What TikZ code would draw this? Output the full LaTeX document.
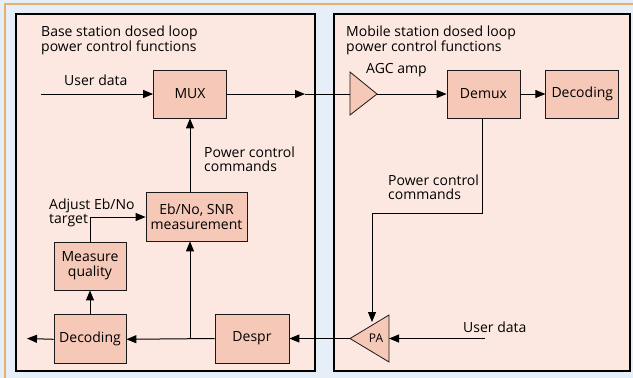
\documentclass[tikz,border=0pt]{standalone}
\usepackage{fontspec}
\setmainfont{Open Sans}
\usetikzlibrary{positioning,arrows.meta}

\definecolor{bgblue}{HTML}{E6EEF8}
\definecolor{frameorange}{HTML}{E8B070}
\definecolor{panelpink}{HTML}{FCE8E0}
\definecolor{boxsalmon}{HTML}{F6C8B8}

\tikzset{
  panel/.style={draw=black, line width=1.1pt, fill=panelpink},
  block/.style={draw=black!90, line width=0.8pt, fill=boxsalmon, minimum width=73pt,
    minimum height=48pt, inner sep=1pt, align=center, font=\fontsize{14}{15}\selectfont},
  amp/.style={draw=black!90, line width=0.8pt, fill=boxsalmon},
  lbl/.style={align=left, inner sep=0pt, anchor=north west, font=\fontsize{14}{14}\selectfont},
  lblone/.style={inner sep=0pt, anchor=base west, font=\fontsize{14}{14}\selectfont},
  sig/.style={line width=1pt, -{Triangle[length=10pt,width=8pt]}},
  wire/.style={line width=1pt}
}

\begin{document}
\begin{tikzpicture}[x=1pt,y=-1pt]
  % background and frame
  \fill[bgblue] (0,0) rectangle (633,378);
  \useasboundingbox (0,0) rectangle (633,378);
  \draw[frameorange, line width=1.5pt] (5,378) -- (5,4) -- (633,4);

  % the two panels
  \draw[panel] (16,14) rectangle (315,371);
  \draw[panel] (334,14) rectangle (630,371);
  \node[lbl] (bstitle) at (41,25.5) {Base station dosed loop\\power control functions};
  \node[lbl] (mstitle) at (346,25.5) {Mobile station dosed loop\\power control functions};

  % base station blocks
  \node[block] (mux) at (190,94) {MUX};
  \node[block, minimum width=101pt, minimum height=49pt] (ebno) at (196.5,216.5) {Eb/No, SNR\\measurement};
  \node[block, minimum width=72pt] (measq) at (90,266) {Measure\\quality};
  \node[block, minimum width=72pt, minimum height=49pt, below=24pt of measq] (decl) {Decoding};
  \node[block, minimum width=74pt, minimum height=49pt] (despr) at (252,338.5) {Despr};

  % mobile station blocks
  \node[block] (demux) at (483.5,94) {Demux};
  \node[block, right=25pt of demux] (decr) {Decoding};

  % amplifiers
  \draw[amp] (350,72) -- (377,94) -- (350,115) -- cycle;
  \coordinate (agcin) at (350,94);
  \coordinate (agcout) at (377,94);
  \draw[amp] (389,315) -- (389,362) -- (350,338.5) -- cycle;
  \node[inner sep=0pt, font=\fontsize{12}{13}\selectfont] (pa) at (376,338.5) {PA};
  \coordinate (pain) at (389,338.5);
  \coordinate (paout) at (350,338.5);
  \coordinate (patop) at (372,322);

  % free ends and bends
  \coordinate (udin) at (41,94);
  \coordinate (udms) at (485,338.5);
  \coordinate (muxtip) at (305,94);
  \coordinate (decout) at (27,338.5);
  \coordinate (split) at (190,338.5);
  \coordinate (pcbend) at (482,213);
  \coordinate (adjbend) at (90,217);

  % signal paths
  \draw[sig] (udin) -- (mux.west);
  \draw[sig] (mux.east) -- (muxtip);
  \draw[wire] (muxtip) -- (agcin);
  \draw[sig] (agcout) -- (demux.west);
  \draw[sig] (demux.east) -- (decr.west);
  \draw[wire] (demux.south -| pcbend) -- (pcbend) -- (pcbend -| patop);
  \draw[sig] (pcbend -| patop) -- (patop);
  \draw[sig] (udms) -- (pain);
  \draw[sig] (paout) -- (despr.east);
  \draw[sig] (despr.west) -- (decl.east);
  \draw[sig] (split) -- (ebno.south -| split);
  \draw[sig] (ebno.north -| mux) -- (mux.south);
  \draw[sig] (decl.north) -- (measq.south);
  \draw[wire] (measq.north) -- (adjbend);
  \draw[sig] (adjbend) -- (adjbend -| ebno.west);
  \draw[sig] (decl.west) -- (decout);

  % labels
  \node[lblone] (udl) at (64,85) {User data};
  \node[lbl] (pcl) at (204,147) {Power control\\commands};
  \node[lbl] (adjl) at (49,198.5) {Adjust Eb/No\\target};
  \node[lblone] (agcl) at (366,73) {AGC amp};
  \node[lbl] (pcr) at (388,174.5) {Power control\\commands};
  \node[lblone] (udr) at (463,332) {User data};
\end{tikzpicture}
\end{document}
